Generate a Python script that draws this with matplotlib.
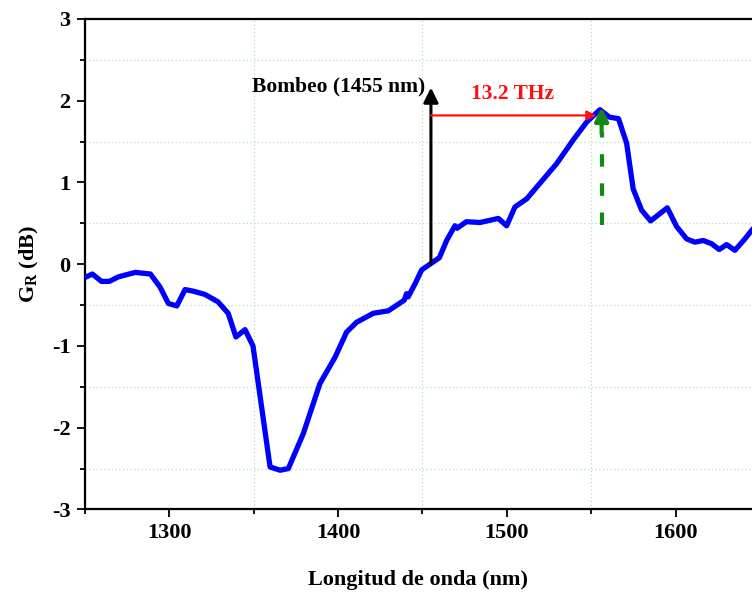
import matplotlib
matplotlib.use("Agg")
import matplotlib.pyplot as plt
from matplotlib.ticker import MultipleLocator

plt.rcParams['font.family'] = ['Liberation Serif', 'DejaVu Serif']
plt.rcParams['font.weight'] = 'bold'
plt.rcParams['axes.unicode_minus'] = False
plt.rcParams['mathtext.fontset'] = 'custom'
plt.rcParams['mathtext.rm'] = 'Liberation Serif:bold'
plt.rcParams['mathtext.bf'] = 'Liberation Serif:bold'
plt.rcParams['mathtext.it'] = 'Liberation Serif:italic:bold'

# ganancia Raman
wavelength = [1249, 1254.6, 1260, 1264.7, 1270, 1280, 1289, 1294.7, 1299.6, 1304.6,
              1309.5, 1314.4, 1321.3, 1329, 1335, 1339.6, 1345, 1349.7, 1359.8, 1365.7,
              1370.6, 1379.5, 1389.3, 1398.2, 1405.1, 1411, 1420.9, 1429.8, 1439.2, 1440.6,
              1441.5, 1445.6, 1449.5, 1454.4, 1460, 1464.3, 1469.2, 1470.5, 1476, 1484,
              1494.9, 1499.8, 1504.7, 1511.7, 1519.5, 1529.4, 1539.2, 1547.2, 1555, 1560.5,
              1566, 1570.8, 1574.7, 1579.7, 1585, 1594.9, 1600.4, 1606.3, 1611.2, 1616.2,
              1621.1, 1625.6, 1630, 1634.9, 1640.8, 1645, 1650]
gain = [-0.175, -0.12, -0.21, -0.21, -0.155, -0.1, -0.12, -0.28, -0.48, -0.51,
        -0.31, -0.33, -0.37, -0.46, -0.60, -0.89, -0.80, -1.0, -2.48, -2.52,
        -2.50, -2.07, -1.46, -1.14, -0.83, -0.71, -0.60, -0.57, -0.44, -0.36,
        -0.40, -0.24, -0.07, 0.0, 0.08, 0.29, 0.47, 0.44, 0.52, 0.51,
        0.56, 0.47, 0.70, 0.80, 0.99, 1.23, 1.52, 1.74, 1.89, 1.80,
        1.78, 1.48, 0.92, 0.66, 0.53, 0.69, 0.46, 0.31, 0.27, 0.29,
        0.25, 0.18, 0.24, 0.17, 0.31, 0.42, 0.52]

pump_nm = 1455
peak_nm = 1556
xticks = [1300, 1400, 1500, 1600]
yticks = [-3, -2, -1, 0, 1, 2, 3]

fig = plt.figure(figsize=(7.52, 5.92), dpi=100)
ax = fig.add_axes([0.1124, 0.1394, 0.8876, 0.8286])

ax.plot(wavelength, gain, color='#0000ff', lw=3.8, solid_joinstyle='round', zorder=3)

# bombeo
ax.annotate('', xy=(pump_nm, 2.16), xytext=(pump_nm, 0.0),
            arrowprops=dict(arrowstyle='-|>', color='black', lw=2.2,
                            mutation_scale=22, shrinkA=0, shrinkB=0), zorder=4)
ax.text(pump_nm - 3.5, 2.17, 'Bombeo (1455 nm)', ha='right', va='center',
        fontsize=15.5, fontweight='bold', color='black')

# desplazamiento
ax.annotate('', xy=(peak_nm - 3, 1.82), xytext=(pump_nm, 1.82),
            arrowprops=dict(arrowstyle='-|>', color='#ff1010', lw=1.6,
                            mutation_scale=14, shrinkA=0, shrinkB=0), zorder=4)
ax.text(1503.5, 2.08, '13.2 THz', ha='center', va='center',
        fontsize=15.5, fontweight='bold', color='#ff1010')

# pico
ax.plot([peak_nm, peak_nm], [0.48, 1.62], color='#138a13', lw=3, dashes=(3, 4), zorder=4)
ax.annotate('', xy=(peak_nm, 1.92), xytext=(peak_nm, 1.6),
            arrowprops=dict(arrowstyle='-|>', color='#138a13', lw=3,
                            mutation_scale=20, shrinkA=0, shrinkB=0), zorder=5)

ax.set_xlim(1250, 1645)
ax.set_ylim(-3, 3)
ax.set_xticks(xticks)
ax.set_yticks(yticks)
ax.xaxis.set_minor_locator(MultipleLocator(50))
ax.yaxis.set_minor_locator(MultipleLocator(0.5))
ax.grid(which='minor', color='#b4e0b4', linestyle=(0, (1, 2)), lw=0.9)
ax.grid(which='major', visible=False)

for s in ['left', 'bottom', 'top']:
    ax.spines[s].set_linewidth(1.6)
ax.spines['right'].set_visible(False)
ax.tick_params(which='major', direction='out', length=6, width=1.3,
               labelsize=16, pad=4, top=False, right=False)
ax.tick_params(which='minor', direction='out', length=3.5, width=1.3,
               top=False, right=False)
for lab in ax.get_xticklabels() + ax.get_yticklabels():
    lab.set_fontweight('bold')

ax.set_xlabel('Longitud de onda (nm)', fontsize=16, fontweight='bold', labelpad=19)
ax.set_ylabel(r'G$_\mathrm{R}$ (dB)', fontsize=16, fontweight='bold', labelpad=8)

fig.savefig('out.png', dpi=100)
